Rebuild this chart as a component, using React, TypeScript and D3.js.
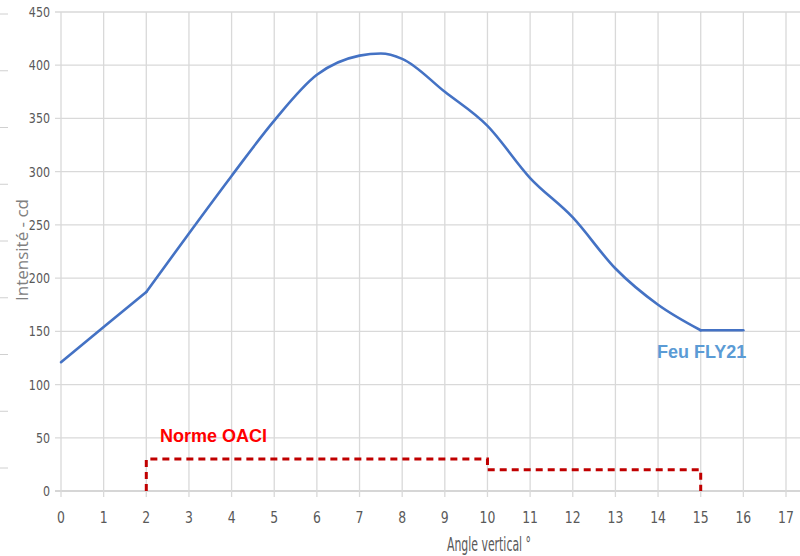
import React, { useRef, useEffect } from 'react';
import * as d3 from 'd3';

// Feu FLY21 photometric curve (angle in degrees, intensity in cd)
const fly21Angles = [0, 1, 2, 3, 4, 5, 6, 7, 7.5, 8, 9, 10, 11, 12, 13, 14, 15, 16];
const fly21Values = [121, 154, 187, 242, 296, 348, 391, 409, 411, 406, 375, 343, 294, 257, 209, 175, 151, 151];
// indices where the Excel curve shows a corner
const fly21Breaks = [2, 16];

// ICAO minimum (step line)
const oaciAngles = [2, 2, 10, 10, 15, 15];
const oaciValues = [0, 30, 30, 20, 20, 0];

const xTicks = d3.range(0, 18);
const yTicks = [0, 50, 100, 150, 200, 250, 300, 350, 400, 450];

const W = 800;
const H = 556;
const tickFont = '"Liberation Sans Narrow", "DejaVu Sans Condensed", sans-serif';

const App: React.FC = () => {
  const svgRef = useRef<SVGSVGElement>(null);

  useEffect(() => {
    if (!svgRef.current) return;
    const svg = d3.select(svgRef.current);
    svg.selectAll('*').remove();

    const x = d3.scaleLinear().domain([0, 17]).range([61, 786]);
    const y = d3.scaleLinear().domain([0, 450]).range([491, 12]);

    // stray ticks on the far left (cropped neighbour axis)
    const stray = d3.scaleLinear().domain([0, 8]).range([14, 468]);
    svg.append('g')
      .selectAll('line')
      .data(d3.range(0, 9))
      .enter().append('line')
      .attr('x1', 0).attr('x2', 8)
      .attr('y1', d => stray(d)).attr('y2', d => stray(d))
      .attr('stroke', '#d0d0d0').attr('stroke-width', 1);

    // horizontal grid
    svg.append('g')
      .selectAll('line')
      .data(yTicks)
      .enter().append('line')
      .attr('x1', x(0) - 6).attr('x2', W)
      .attr('y1', d => y(d)).attr('y2', d => y(d))
      .attr('stroke', d => (d === 0 ? '#c8c8c8' : '#d9d9d9'))
      .attr('stroke-width', 1.3);

    // vertical grid
    svg.append('g')
      .selectAll('line')
      .data(xTicks)
      .enter().append('line')
      .attr('x1', d => x(d)).attr('x2', d => x(d))
      .attr('y1', y(450)).attr('y2', y(0) + 6)
      .attr('stroke', '#d9d9d9')
      .attr('stroke-width', 1.3);

    // y tick labels
    svg.append('g')
      .selectAll('text')
      .data(yTicks)
      .enter().append('text')
      .attr('transform', d => `translate(50,${y(d) + 5}) scale(0.88,1)`)
      .attr('text-anchor', 'end')
      .attr('font-family', tickFont)
      .attr('font-size', 14)
      .attr('fill', '#595959')
      .text(d => d);

    // x tick labels
    svg.append('g')
      .selectAll('text')
      .data(xTicks)
      .enter().append('text')
      .attr('transform', d => `translate(${x(d)},523) scale(0.92,1)`)
      .attr('text-anchor', 'middle')
      .attr('font-family', tickFont)
      .attr('font-size', 15)
      .attr('fill', '#595959')
      .text(d => d);

    // axis titles
    svg.append('text')
      .attr('transform', 'translate(28,250) rotate(-90)')
      .attr('text-anchor', 'middle')
      .attr('font-family', '"Open Sans", sans-serif')
      .attr('font-size', 17)
      .attr('fill', '#808080')
      .text('Intensité - cd');

    svg.append('text')
      .attr('x', 447)
      .attr('y', 551)
      .attr('font-family', tickFont)
      .attr('font-size', 19)
      .attr('textLength', 84)
      .attr('lengthAdjust', 'spacingAndGlyphs')
      .attr('fill', '#595959')
      .text('Angle vertical °');

    // OACI step line
    const oaciLine = d3.line<number>()
      .x((_, i) => x(oaciAngles[i]))
      .y(d => y(d));
    svg.append('path')
      .attr('d', oaciLine(oaciValues))
      .attr('fill', 'none')
      .attr('stroke', '#c00000')
      .attr('stroke-width', 3)
      .attr('stroke-dasharray', '7,5');

    // FLY21 curve: straight run, smoothed middle, straight tail
    const pts = fly21Values.map((v, i) => [x(fly21Angles[i]), y(v)] as [number, number]);
    const [b1, b2] = fly21Breaks;
    const straight = d3.line();
    const smooth = d3.line().curve(d3.curveMonotoneX);
    const d = [
      straight(pts.slice(0, b1 + 1)),
      smooth(pts.slice(b1, b2 + 1)),
      straight(pts.slice(b2)),
    ];
    svg.append('g')
      .selectAll('path')
      .data(d)
      .enter().append('path')
      .attr('d', p => p as string)
      .attr('fill', 'none')
      .attr('stroke', '#4472c4')
      .attr('stroke-width', 2.6)
      .attr('stroke-linecap', 'round')
      .attr('stroke-linejoin', 'round');

    // labels
    svg.append('text')
      .attr('x', 160)
      .attr('y', 442)
      .attr('font-family', '"Liberation Sans", Arial, sans-serif')
      .attr('font-weight', 'bold')
      .attr('font-size', 18)
      .attr('fill', '#ff0000')
      .text('Norme OACI');

    svg.append('text')
      .attr('x', 657)
      .attr('y', 358)
      .attr('font-family', '"Liberation Sans", Arial, sans-serif')
      .attr('font-weight', 'bold')
      .attr('font-size', 18)
      .attr('fill', '#5b9bd5')
      .text('Feu FLY21');
  }, []);

  return (
    <svg
      ref={svgRef}
      width={W}
      height={H}
      style={{ position: 'absolute', left: 0, top: 0, background: '#fff' }}
    />
  );
};

export default App;
